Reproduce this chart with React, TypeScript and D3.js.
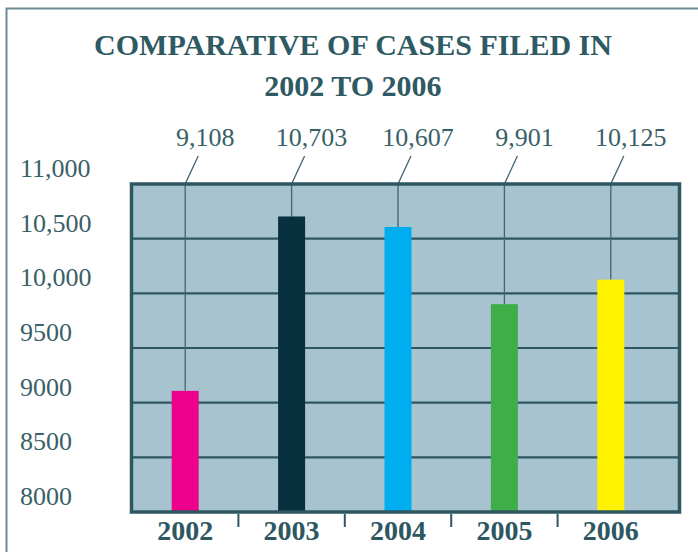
import * as d3 from 'd3';
import { useEffect, useRef } from 'react';

const years = ['2002', '2003', '2004', '2005', '2006'];
const cases = [9108, 10703, 10607, 9901, 10125];
const barColors = ['#ec008c', '#083140', '#00aeef', '#3fae49', '#fff200'];
const yTicks = [8000, 8500, 9000, 9500, 10000, 10500, 11000];
const yTickLabels = ['8000', '8500', '9000', '9500', '10,000', '10,500', '11,000'];
const titleLines = ['COMPARATIVE OF CASES FILED IN', '2002 TO 2006'];

export default function App() {
    const ref = useRef<HTMLDivElement>(null);

    useEffect(() => {
        document.body.style.margin = '0';
        const width = 698;
        const height = 552;
        const plot = { left: 131.5, right: 679.5, top: 184, bottom: 512 };
        const dark = '#2e5762';
        const textColor = '#3a5f68';
        const font = "'Liberation Serif', 'Times New Roman', serif";
        const barWidth = 27;

        const svg = d3.create('svg').attr('width', width).attr('height', height)
            .style('display', 'block');

        // outer frame (open on right and bottom)
        svg.append('path')
            .attr('d', `M6.5,${height} V8.5 H${width}`)
            .attr('fill', 'none').attr('stroke', '#6e8c96').attr('stroke-width', 2);

        svg.selectAll('text.title').data(titleLines).join('text')
            .attr('class', 'title')
            .attr('x', 353).attr('y', (d, i) => 55 + i * 41)
            .attr('text-anchor', 'middle')
            .style('font-family', font).attr('font-weight', 'bold').attr('font-size', 30)
            .attr('fill', '#2e5a63')
            .text(d => d);

        const x = d3.scalePoint<string>().domain(years).range([132, 664]).padding(0.5);
        const y = d3.scaleLinear().domain([8000, 11000]).range([plot.bottom, plot.top]);

        svg.append('rect')
            .attr('x', plot.left).attr('y', plot.top)
            .attr('width', plot.right - plot.left).attr('height', plot.bottom - plot.top)
            .attr('fill', '#a7c3d0');

        svg.append('g').selectAll('line').data(yTicks.slice(1, -1)).join('line')
            .attr('x1', plot.left).attr('x2', plot.right)
            .attr('y1', d => y(d)).attr('y2', d => y(d))
            .attr('stroke', dark).attr('stroke-width', 2.2);

        svg.append('g').selectAll('text').data(yTicks).join('text')
            .attr('x', 20).attr('y', d => y(d) - 7)
            .style('font-family', font).attr('font-size', 26).attr('fill', textColor)
            .text((d, i) => yTickLabels[i]);

        const step = x.step();

        // leader lines
        svg.append('g').selectAll('path').data(years).join('path')
            .attr('d', (d, i) => {
                const cx = x(d)!;
                return `M${cx + 13},156 L${cx},${plot.top} L${cx},${y(cases[i])}`;
            })
            .attr('fill', 'none').attr('stroke', '#3f6671').attr('stroke-width', 1.3);

        svg.append('g').selectAll('rect').data(years).join('rect')
            .attr('x', d => x(d)! - barWidth / 2)
            .attr('y', (d, i) => y(cases[i]))
            .attr('width', barWidth)
            .attr('height', (d, i) => plot.bottom - y(cases[i]))
            .attr('fill', (d, i) => barColors[i]);

        svg.append('rect')
            .attr('x', plot.left).attr('y', plot.top)
            .attr('width', plot.right - plot.left).attr('height', plot.bottom - plot.top)
            .attr('fill', 'none').attr('stroke', dark).attr('stroke-width', 3.5);

        svg.append('g').selectAll('text').data(years).join('text')
            .attr('x', d => x(d)! + 20).attr('y', 146)
            .attr('text-anchor', 'middle')
            .style('font-family', font).attr('font-size', 26).attr('fill', textColor)
            .text((d, i) => d3.format(',')(cases[i]));

        // separators between year labels
        svg.append('g').selectAll('line').data(years.slice(1)).join('line')
            .attr('x1', d => x(d)! - step / 2).attr('x2', d => x(d)! - step / 2)
            .attr('y1', plot.bottom + 2).attr('y2', 527)
            .attr('stroke', dark).attr('stroke-width', 2);

        svg.append('g').selectAll('text').data(years).join('text')
            .attr('x', d => x(d)!).attr('y', 540)
            .attr('text-anchor', 'middle')
            .style('font-family', font).attr('font-weight', 'bold').attr('font-size', 28)
            .attr('fill', dark)
            .text(d => d);

        ref.current?.replaceChildren(svg.node()!);
    }, []);

    return <div ref={ref}></div>;
}
